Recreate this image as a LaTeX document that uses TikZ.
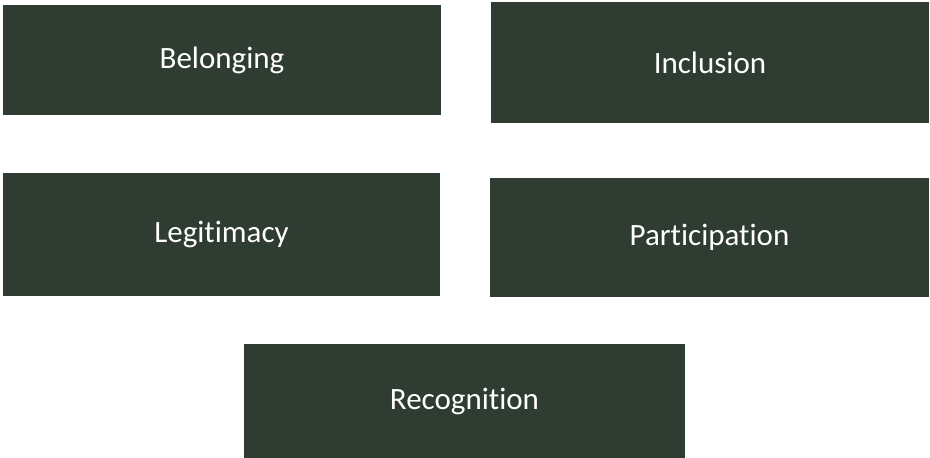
\documentclass[tikz,border=0pt]{standalone}
\usepackage{fontspec}
\setmainfont{Carlito}[Ligatures={NoCommon,NoContextual}]
\definecolor{boxfill}{RGB}{46,60,50}
\begin{document}
\begin{tikzpicture}[x=1pt,y=-1pt,
  card/.style={fill=boxfill, draw=none, text=white, inner sep=0pt, outer sep=0pt,
    font=\fontsize{31}{36}\selectfont, anchor=center}]
\useasboundingbox (0,0) rectangle (930,458);
\node[card, minimum width=438pt, minimum height=110pt] (belonging) at (222,60) {Belonging};
\node[card, minimum width=438pt, minimum height=121pt] (inclusion) at (710,62.5) {Inclusion};
\node[card, minimum width=437pt, minimum height=123pt] (legitimacy) at (221.5,234.5) {Legitimacy};
\node[card, minimum width=439pt, minimum height=119pt] (participation) at (709.5,237) {Participation};
\node[card, minimum width=441pt, minimum height=114pt] (recognition) at (464.5,401) {Recognition};
\end{tikzpicture}
\end{document}
